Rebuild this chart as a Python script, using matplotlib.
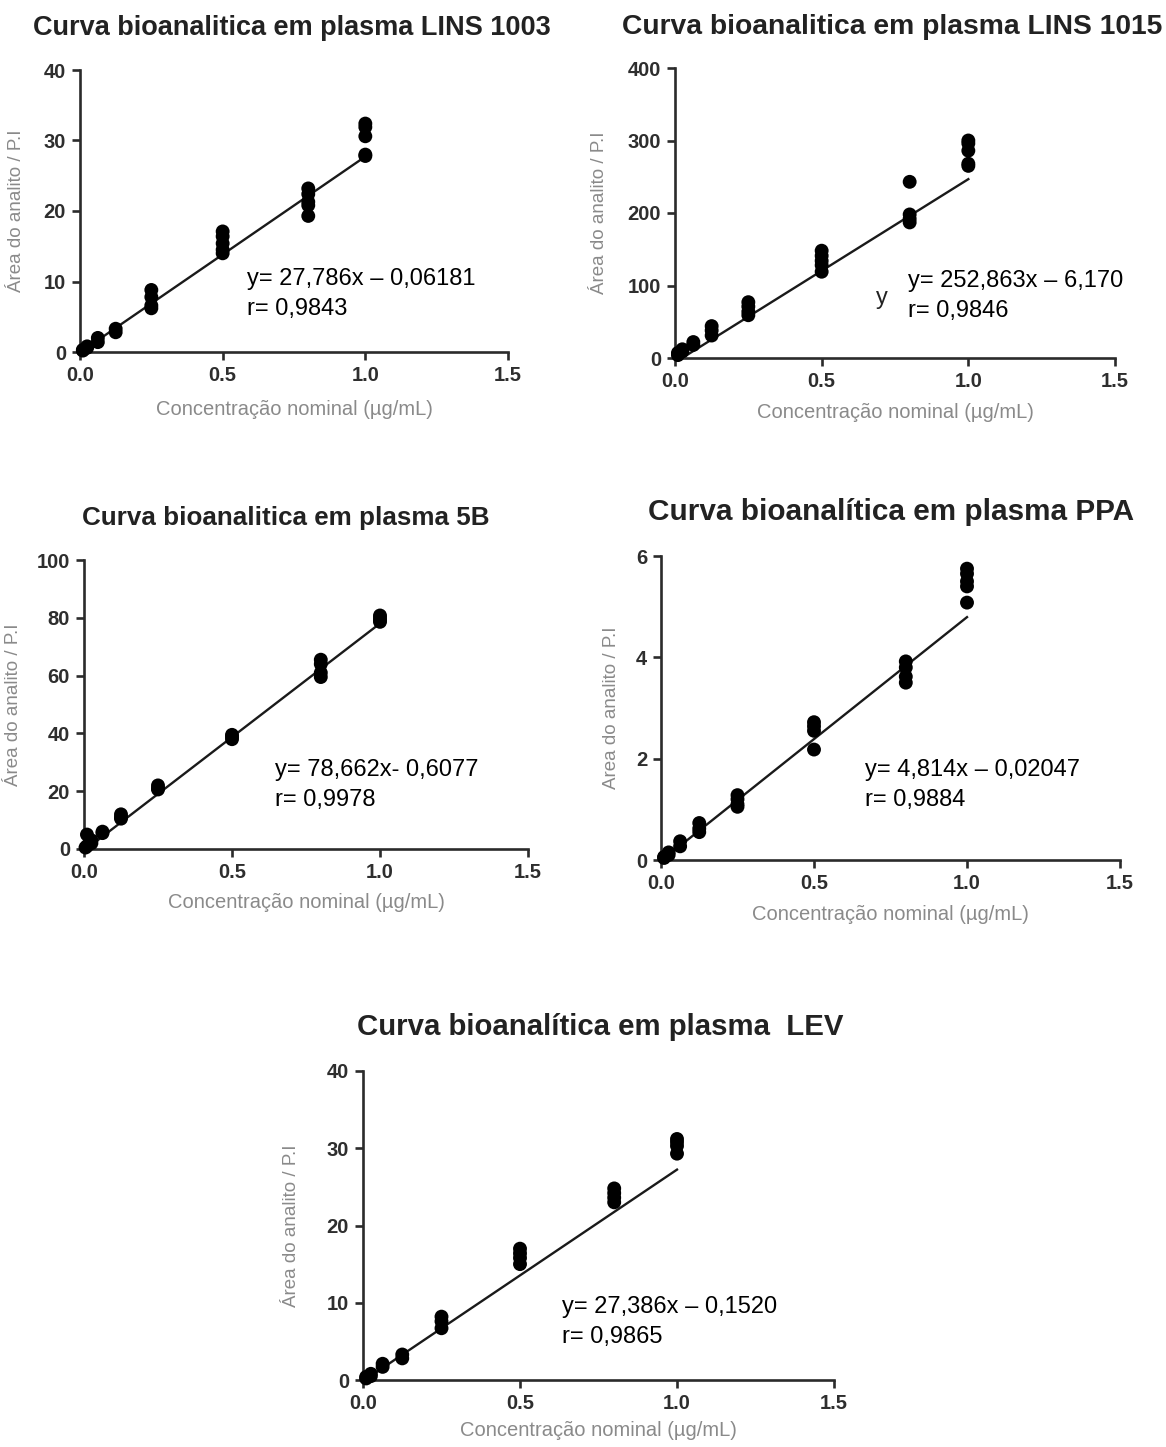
import matplotlib
matplotlib.use("Agg")
import matplotlib.pyplot as plt
import numpy as np

plt.rcParams['font.family'] = ['Liberation Sans', 'DejaVu Sans']

W, H = 1166, 1447

titles = ["Curva bioanalitica em plasma LINS 1003",
          "Curva bioanalitica em plasma LINS 1015",
          "Curva bioanalitica em plasma 5B",
          "Curva bioanalítica em plasma PPA",
          "Curva bioanalítica em plasma  LEV"]
ylabels = ["Área do analito / P.I", "Área do analito / P.I", "Área do analito / P.I",
           "Area do analito / P.I", "Área do analito / P.I"]
xlabel = "Concentração nominal (µg/mL)"
eq_texts = ["y= 27,786x – 0,06181\nr= 0,9843",
            "y= 252,863x – 6,170\nr= 0,9846",
            "y= 78,662x- 0,6077\nr= 0,9978",
            "y= 4,814x – 0,02047\nr= 0,9884",
            "y= 27,386x – 0,1520\nr= 0,9865"]
slopes = [27.786, 252.863, 78.662, 4.814, 27.386]
intercepts = [-0.06181, -6.170, -0.6077, -0.02047, -0.1520]
ymaxes = [40, 400, 100, 6, 40]
ysteps = [10, 100, 20, 2, 10]
xticks = [0.0, 0.5, 1.0, 1.5]

# data: concentration (µg/mL) and response replicates
x_lins1003 = [0.01, 0.01, 0.025, 0.025, 0.0625, 0.0625, 0.125, 0.125,
              0.25, 0.25, 0.25, 0.25, 0.5, 0.5, 0.5, 0.5, 0.5,
              0.8, 0.8, 0.8, 0.8, 0.8, 1.0, 1.0, 1.0, 1.0, 1.0]
y_lins1003 = [0.3, 0.2, 0.8, 0.6, 2.0, 1.4, 3.3, 2.8,
              8.8, 7.8, 6.6, 6.2, 17.1, 16.4, 15.4, 14.5, 14.0,
              23.2, 22.4, 21.3, 20.8, 19.3, 32.4, 31.9, 30.6, 28.0, 27.8]

x_lins1015 = [0.01, 0.01, 0.025, 0.025, 0.0625, 0.0625, 0.125, 0.125, 0.125,
              0.25, 0.25, 0.25, 0.25, 0.5, 0.5, 0.5, 0.5, 0.5,
              0.8, 0.8, 0.8, 0.8, 1.0, 1.0, 1.0, 1.0, 1.0]
y_lins1015 = [7, 4, 12, 9, 22, 18, 44, 38, 31,
              77, 71, 64, 59, 148, 141, 134, 128, 119,
              243, 198, 192, 187, 300, 296, 286, 268, 265]

x_5b = [0.005, 0.01, 0.01, 0.025, 0.025, 0.0625, 0.0625, 0.125, 0.125, 0.125,
        0.25, 0.25, 0.25, 0.5, 0.5, 0.5, 0.8, 0.8, 0.8, 0.8, 1.0, 1.0, 1.0, 1.0]
y_5b = [0.5, 5.0, 1.0, 3.0, 2.0, 6.0, 5.5, 12.0, 11.0, 10.5,
        22.0, 21.0, 20.6, 39.5, 38.8, 38.0, 65.5, 64.0, 61.0, 59.5, 80.8, 80.0, 79.2, 78.6]

x_ppa = [0.01, 0.01, 0.025, 0.025, 0.0625, 0.0625, 0.125, 0.125, 0.125,
         0.25, 0.25, 0.25, 0.25, 0.5, 0.5, 0.5, 0.5,
         0.8, 0.8, 0.8, 0.8, 1.0, 1.0, 1.0, 1.0, 1.0]
y_ppa = [0.06, 0.04, 0.15, 0.10, 0.37, 0.27, 0.73, 0.62, 0.55,
         1.28, 1.20, 1.10, 1.05, 2.72, 2.64, 2.55, 2.18,
         3.92, 3.80, 3.62, 3.50, 5.75, 5.65, 5.50, 5.40, 5.08]

x_lev = [0.01, 0.01, 0.025, 0.025, 0.0625, 0.0625, 0.125, 0.125,
         0.25, 0.25, 0.25, 0.5, 0.5, 0.5, 0.5,
         0.8, 0.8, 0.8, 0.8, 1.0, 1.0, 1.0, 1.0]
y_lev = [0.4, 0.2, 0.8, 0.5, 2.1, 1.7, 3.3, 2.8,
         8.2, 7.6, 6.7, 17.0, 16.4, 15.8, 15.0,
         24.8, 24.2, 23.6, 23.0, 31.2, 30.8, 30.3, 29.3]

xs = [x_lins1003, x_lins1015, x_5b, x_ppa, x_lev]
ys = [y_lins1003, y_lins1015, y_5b, y_ppa, y_lev]

# layout in pixels: (x at 0, x at 1.5, y at 0, y at max)
boxes = [(80, 508, 352, 70), (675, 1115, 358, 68), (84, 528, 849, 560),
         (661, 1120, 860, 556), (363, 834, 1380, 1071)]
title_pos = [(292, 28), (892, 27), (286, 518), (891, 512), (600, 1027)]
title_size = [19.5, 20.3, 18.7, 21.4, 21.2]
ylab_x = [25, 608, 22, 620, 300]
xlab_y = [410, 413, 903, 915, 1431]
eq_pos = [(247, 268), (908, 270), (275, 759), (865, 759), (562, 1296)]

fig = plt.figure(figsize=(W / 100, H / 100), dpi=100)
axc = '#2b2b2b'
for i in range(5):
    x0, x1, y0, y1 = boxes[i]
    ax = fig.add_axes([x0 / W, 1 - y0 / H, (x1 - x0) / W, (y0 - y1) / H])
    ax.set_xlim(0, 1.5)
    ax.set_ylim(0, ymaxes[i])
    for s in ['top', 'right']:
        ax.spines[s].set_visible(False)
    for s in ['left', 'bottom']:
        ax.spines[s].set_linewidth(1.9)
        ax.spines[s].set_color(axc)
    ax.set_xticks(xticks)
    ax.set_xticklabels([f"{t:.1f}" for t in xticks])
    ax.set_yticks(np.arange(0, ymaxes[i] + ysteps[i] / 2, ysteps[i]))
    ax.tick_params(direction='out', length=6, width=1.9, color=axc,
                   labelsize=14.5, labelcolor='#2e2e2e', pad=4)
    for lab in ax.get_xticklabels() + ax.get_yticklabels():
        lab.set_fontweight('bold')
    xf = np.array([0.0, 1.0])
    ax.plot(xf, slopes[i] * xf + intercepts[i], color='#1a1a1a', lw=1.7, zorder=2)
    ax.scatter(xs[i], ys[i], s=100, color='black', edgecolors='none', zorder=3, clip_on=False)
    ax.set_xlabel(xlabel, fontsize=14.5, color='#8a8a8a')
    ax.xaxis.set_label_coords(0.5, -(xlab_y[i] - 10 - y0) / (y0 - y1))
    ax.set_ylabel(ylabels[i], fontsize=13.5, color='#8a8a8a')
    ax.yaxis.set_label_coords((ylab_x[i] - x0) / (x1 - x0), 0.5)
    tx, ty = title_pos[i]
    fig.text(tx / W, 1 - ty / H, titles[i], fontsize=title_size[i], fontweight='bold',
             color='#222222', ha='center', va='center')
    ex, ey = eq_pos[i]
    fig.text(ex / W, 1 - ey / H, eq_texts[i], fontsize=17, color='black',
             ha='left', va='top', linespacing=1.45)

fig.text(882 / W, 1 - 298 / H, "y", fontsize=17, color='#222222', ha='center', va='center')

fig.savefig("out.png", dpi=100)
